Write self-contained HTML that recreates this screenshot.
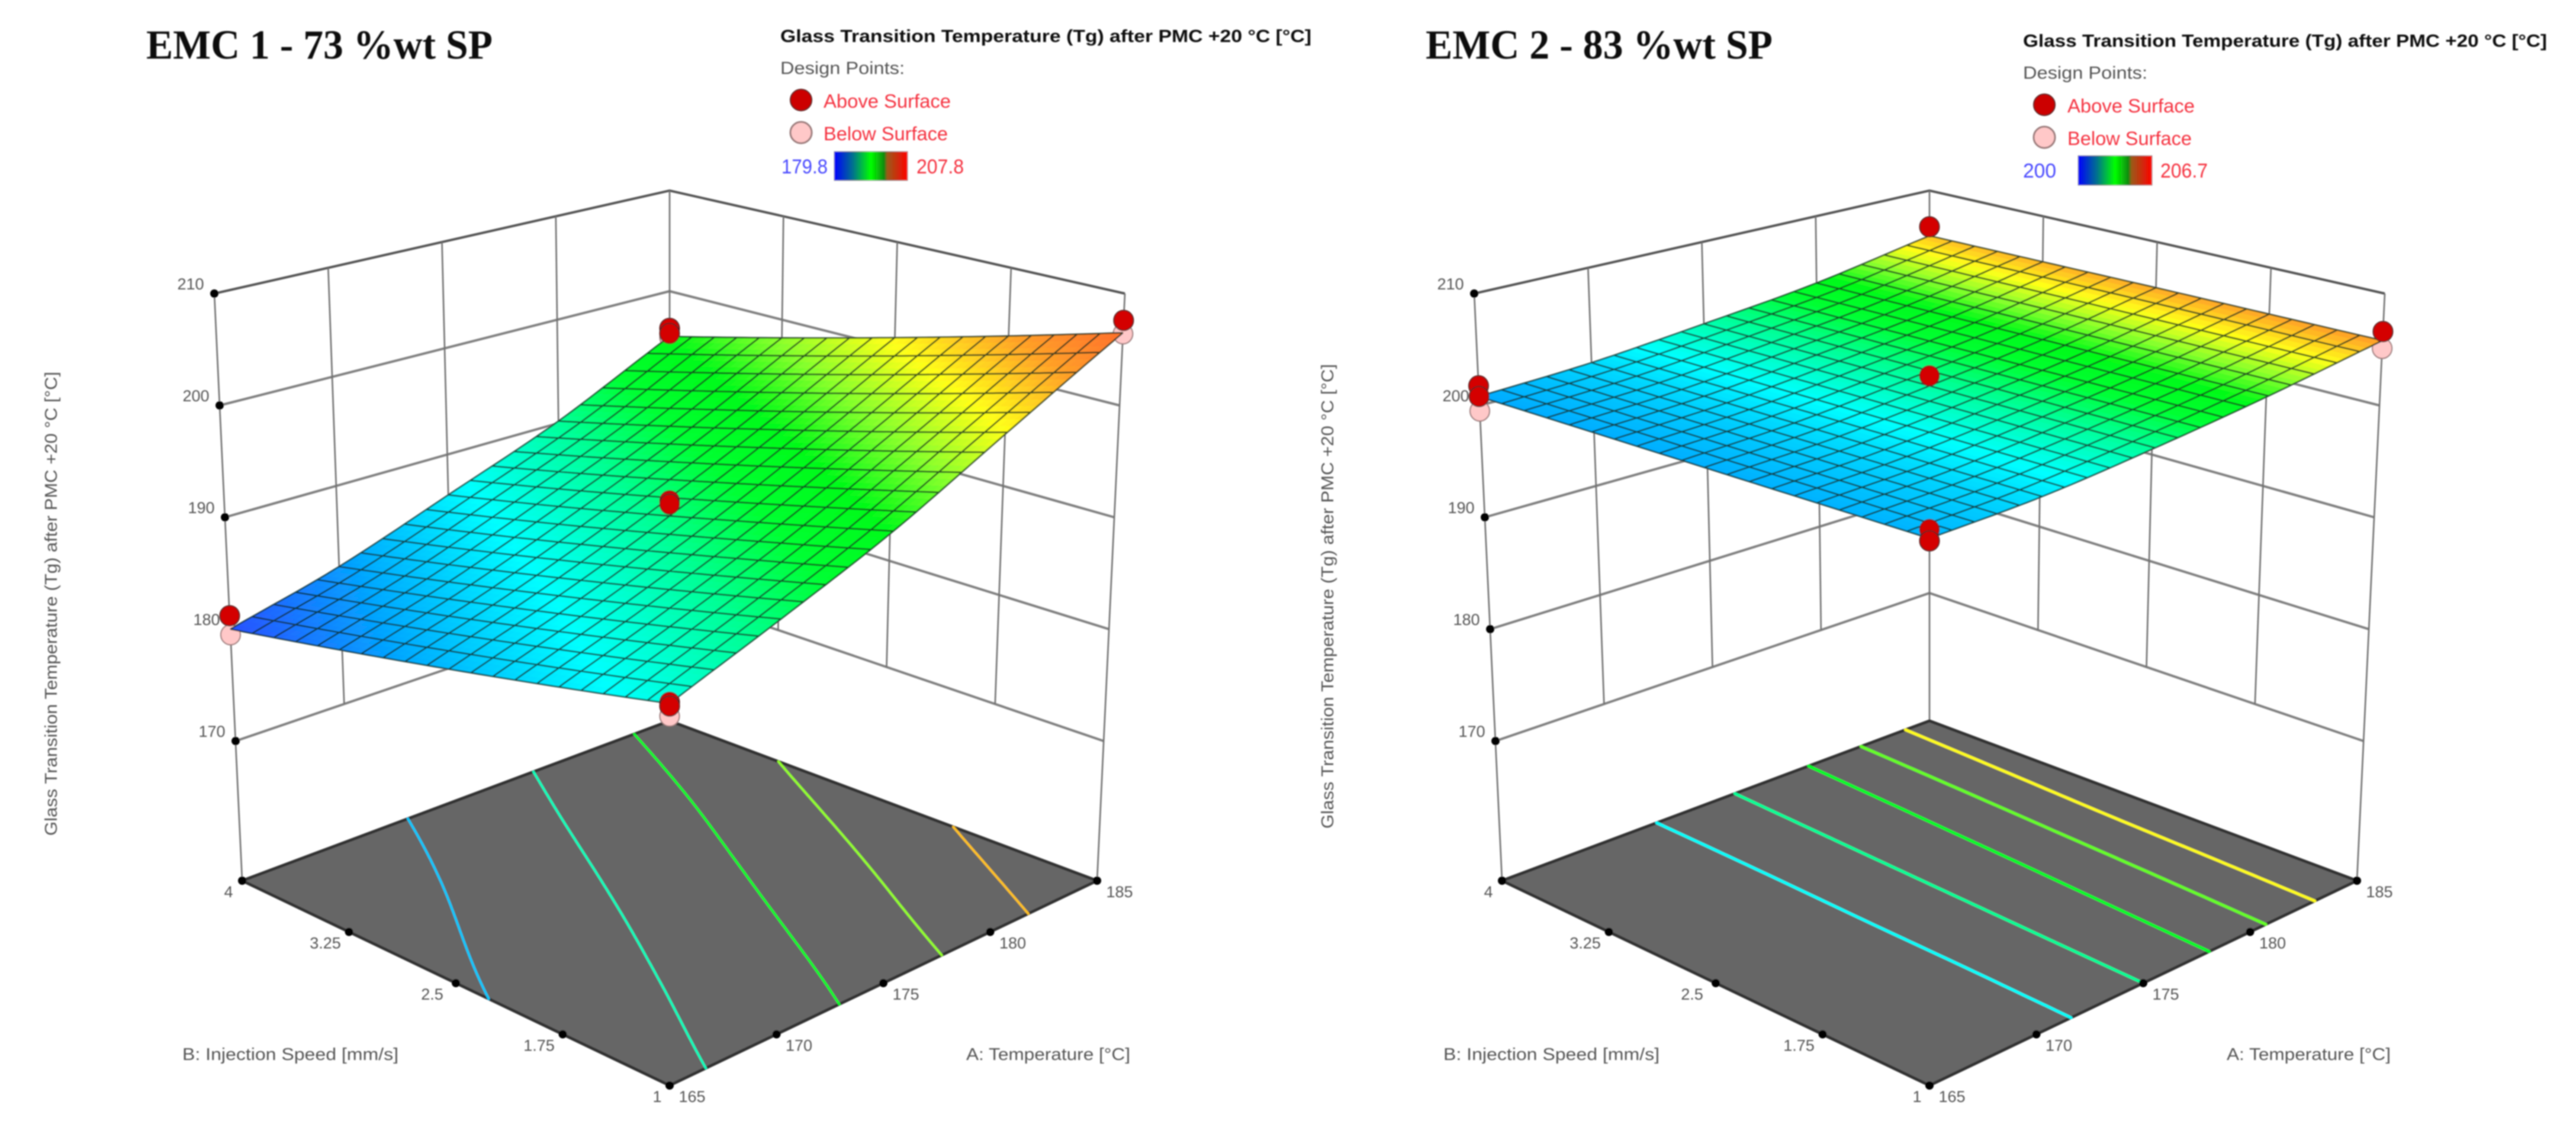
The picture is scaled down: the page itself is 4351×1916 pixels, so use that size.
<!DOCTYPE html>
<html lang="en">
<head>
<meta charset="utf-8">
<title>EMC 1 and EMC 2 response surfaces</title>
<style>
html,body{margin:0;padding:0;background:#fff;width:4351px;height:1916px;overflow:hidden}
svg{display:block}
text{font-family:"Liberation Sans",sans-serif}
.panel-title{font-family:"Liberation Serif",serif;font-size:70px;font-weight:700;fill:#111}
.legend-title{font-size:30px;font-weight:700;fill:#111}
.legend-label{font-size:30px;fill:#555}
.legend-red{font-size:32px;fill:#f5333f}
.scale-min{font-size:34px;fill:#4a4aff}
.scale-max{font-size:34px;fill:#f5333f}
.axis-title{font-size:29px;fill:#555}
.tick-label{font-size:27px;fill:#555}
</style>
</head>
<body>
<svg id="figure" xmlns="http://www.w3.org/2000/svg" width="4351" height="1916" viewBox="0 0 4351 1916">
  <defs>
    <filter id="soft" filterUnits="userSpaceOnUse" x="0" y="0" width="4351" height="1916">
      <feGaussianBlur stdDeviation="1"/>
    </filter>
    <linearGradient id="scale-gradient" x1="0" x2="1" y1="0" y2="0">
      <stop offset="0" stop-color="#0000ff"/>
      <stop offset="0.25" stop-color="#006f90"/>
      <stop offset="0.5" stop-color="#00ff00"/>
      <stop offset="0.68" stop-color="#108a10"/>
      <stop offset="0.72" stop-color="#9a5a18"/>
      <stop offset="1" stop-color="#ff0000"/>
    </linearGradient>
  </defs>
  <rect x="0" y="0" width="4351" height="1916" fill="#ffffff"/>
  <g id="canvas" filter="url(#soft)">
    <g id="panel-1">
      <text class="panel-title" x="247" y="99" textLength="585" lengthAdjust="spacingAndGlyphs">EMC 1 - 73 %wt SP</text>
      <text class="axis-title" transform="translate(96,1412) rotate(-90)" x="0" y="0" textLength="784" lengthAdjust="spacingAndGlyphs">Glass Transition Temperature (Tg) after PMC +20 °C [°C]</text>
      <text class="axis-title" x="308" y="1791" textLength="365" lengthAdjust="spacingAndGlyphs">B: Injection Speed [mm/s]</text>
      <text class="axis-title" x="1632" y="1791" textLength="277" lengthAdjust="spacingAndGlyphs">A: Temperature [°C]</text>
      <g>
        <text class="legend-title" x="1318" y="71" textLength="897" lengthAdjust="spacingAndGlyphs">Glass Transition Temperature (Tg) after PMC +20 °C [°C]</text>
        <text class="legend-label" x="1318" y="125" textLength="210" lengthAdjust="spacingAndGlyphs">Design Points:</text>
        <circle cx="1353" cy="169" r="18" fill="#cc0000" stroke="#5a2020" stroke-width="2"/>
        <text class="legend-red" x="1391" y="182" textLength="215" lengthAdjust="spacingAndGlyphs">Above Surface</text>
        <circle cx="1353" cy="224" r="18" fill="#ffc8c8" stroke="#9a7a7a" stroke-width="3"/>
        <text class="legend-red" x="1391" y="237" textLength="210" lengthAdjust="spacingAndGlyphs">Below Surface</text>
        <text class="scale-min" x="1320" y="293" textLength="78" lengthAdjust="spacingAndGlyphs">179.8</text>
        <rect x="1409" y="256" width="124" height="49" fill="url(#scale-gradient)" stroke="#999" stroke-width="1"/>
        <text class="scale-max" x="1548" y="293" textLength="80" lengthAdjust="spacingAndGlyphs">207.8</text>
      </g>
    </g>
    <g id="panel-2">
      <text class="panel-title" x="2408" y="99" textLength="586" lengthAdjust="spacingAndGlyphs">EMC 2 - 83 %wt SP</text>
      <text class="axis-title" transform="translate(2252,1400) rotate(-90)" x="0" y="0" textLength="785" lengthAdjust="spacingAndGlyphs">Glass Transition Temperature (Tg) after PMC +20 °C [°C]</text>
      <text class="axis-title" x="2438" y="1791" textLength="365" lengthAdjust="spacingAndGlyphs">B: Injection Speed [mm/s]</text>
      <text class="axis-title" x="3761" y="1791" textLength="277" lengthAdjust="spacingAndGlyphs">A: Temperature [°C]</text>
      <g>
        <text class="legend-title" x="3417" y="79" textLength="885" lengthAdjust="spacingAndGlyphs">Glass Transition Temperature (Tg) after PMC +20 °C [°C]</text>
        <text class="legend-label" x="3417" y="133" textLength="210" lengthAdjust="spacingAndGlyphs">Design Points:</text>
        <circle cx="3453" cy="177" r="18" fill="#cc0000" stroke="#5a2020" stroke-width="2"/>
        <text class="legend-red" x="3492" y="190" textLength="215" lengthAdjust="spacingAndGlyphs">Above Surface</text>
        <circle cx="3453" cy="232" r="18" fill="#ffc8c8" stroke="#9a7a7a" stroke-width="3"/>
        <text class="legend-red" x="3492" y="245" textLength="210" lengthAdjust="spacingAndGlyphs">Below Surface</text>
        <text class="scale-min" x="3417" y="300" textLength="56" lengthAdjust="spacingAndGlyphs">200</text>
        <rect x="3510" y="263" width="125" height="50" fill="url(#scale-gradient)" stroke="#999" stroke-width="1"/>
        <text class="scale-max" x="3649" y="300" textLength="80" lengthAdjust="spacingAndGlyphs">206.7</text>
      </g>
    </g>
  </g>
</svg>
<script>
// ---------- axis values ----------
const tempTicks = [165, 170, 175, 180, 185];
const speedTicks = [1, 1.75, 2.5, 3.25, 4];
const tgTicks = [170, 180, 190, 200, 210];

// ---------- EMC 1: Tg at each (temperature row, speed column) ----------
const emc1Surface = [
  [187.8, 185.85, 183.9, 181.95, 180.0],
  [191.4, 189.2, 187.0, 184.8, 182.6],
  [195.5, 193.2, 190.85, 188.5, 186.2],
  [200.8, 198.15, 195.5, 192.85, 190.2],
  [206.5, 203.75, 201.0, 198.25, 195.5]
];
const emc1ContourLevels = [184.5, 189, 193.7, 198.3, 202.8];
const emc1ScaleRange = [179.8, 207.8];
const emc1PointTemp = [165, 165, 165, 165, 165, 185, 185, 185, 185, 185, 175, 175];
const emc1PointSpeed = [4, 4, 1, 1, 1, 4, 4, 4, 1, 1, 2.5, 2.5];
const emc1PointTg = [181.2, 179.5, 187.9, 187.6, 186.8, 196.3, 195.8, 195.4, 207.6, 206.4, 192.2, 191.9];
const emc1PointAbove = [1, 0, 1, 1, 0, 1, 1, 0, 1, 0, 1, 1];

// ---------- EMC 2: Tg at each (temperature row, speed column) ----------
const emc2Surface = [
  [200.9, 200.88, 200.85, 200.83, 200.8],
  [201.4, 201.37, 201.35, 201.32, 201.3],
  [202.5, 202.45, 202.4, 202.35, 202.3],
  [203.95, 203.85, 203.75, 203.65, 203.55],
  [205.8, 205.75, 205.7, 205.6, 205.5]
];
const emc2ContourLevels = [201.7, 202.5, 203.35, 204.2, 205.05];
const emc2ScaleRange = [200, 206.7];
const emc2PointTemp = [165, 165, 165, 165, 165, 185, 185, 185, 175];
const emc2PointSpeed = [4, 4, 4, 1, 1, 4, 1, 1, 2.5];
const emc2PointTg = [201.75, 200.8, 199.5, 201.6, 200.7, 206.4, 206.6, 205.1, 203.3];
const emc2PointAbove = [1, 1, 0, 1, 1, 1, 1, 0, 1];

const NS = 'http://www.w3.org/2000/svg';
const GRID_CELLS = 20;
const SUB = 3;
const FLOOR_FRONT = 1834, FLOOR_SIDE = 1488, FLOOR_BACK = 1218, FLOOR_HALF = 722;

function make(tag, parent, attrs) {
  const el = document.createElementNS(NS, tag);
  for (const k in attrs) el.setAttribute(k, attrs[k]);
  parent.appendChild(el);
  return el;
}
function tempToU(a) { return (a - tempTicks[0]) / (tempTicks[tempTicks.length - 1] - tempTicks[0]); }
function speedToV(b) { return (b - speedTicks[0]) / (speedTicks[speedTicks.length - 1] - speedTicks[0]); }

function yFront(t) { return FLOOR_FRONT - 21.3 * (t - 157.5); }
function ySide(t) { return 1252 - 18.9 * (t - 170); }
function yBack(t) { return 1002 - 17 * (t - 170); }
function halfWidth(t) { return 733 + 0.9 * (t - 170); }

function project(cx, u, v, t) {
  return [
    cx + (u - v) * halfWidth(t),
    (1 - u) * (1 - v) * yFront(t) + (u * (1 - v) + v * (1 - u)) * ySide(t) + u * v * yBack(t)
  ];
}
function projectFloor(cx, u, v) {
  return [
    cx + (u - v) * FLOOR_HALF,
    (1 - u) * (1 - v) * FLOOR_FRONT + (u * (1 - v) + v * (1 - u)) * FLOOR_SIDE + u * v * FLOOR_BACK
  ];
}
function catmull(p0, p1, p2, p3, s) {
  return 0.5 * (2 * p1 + (p2 - p0) * s + (2 * p0 - 5 * p1 + 4 * p2 - p3) * s * s + (3 * p1 - p0 - 3 * p2 + p3) * s * s * s);
}
function edgeExtrap(arr, i) {
  const n = arr.length;
  if (i < 0) return 2 * arr[0] - arr[1];
  if (i >= n) return 2 * arr[n - 1] - arr[n - 2];
  return arr[i];
}
function sampleSurface(grid, u, v) {
  const nu = grid.length - 1, nv = grid[0].length - 1;
  const fu = Math.min(u * nu, nu - 1e-9), fv = Math.min(v * nv, nv - 1e-9);
  const iu = Math.floor(fu), iv = Math.floor(fv);
  const su = fu - iu, sv = fv - iv;
  const col = [];
  for (let k = -1; k <= 2; k++) {
    const row = k + iu < 0 ? grid[0].map(function (x, c) { return 2 * grid[0][c] - grid[1][c]; })
      : k + iu > nu ? grid[nu].map(function (x, c) { return 2 * grid[nu][c] - grid[nu - 1][c]; })
      : grid[k + iu];
    col.push(catmull(edgeExtrap(row, iv - 1), row[iv], row[iv + 1], edgeExtrap(row, iv + 2), sv));
  }
  return catmull(col[0], col[1], col[2], col[3], su);
}
const COLOR_STOPS = [
  [0, 45, 75, 255], [0.12, 0, 170, 255], [0.25, 0, 255, 255], [0.375, 0, 255, 150],
  [0.47, 0, 255, 50], [0.56, 5, 250, 25], [0.65, 135, 255, 45], [0.75, 255, 255, 25], [0.86, 255, 160, 40], [1, 255, 85, 45]
];
function colorFor(t, range) {
  const f = Math.max(0, Math.min(1, (t - range[0]) / (range[1] - range[0])));
  for (let i = 1; i < COLOR_STOPS.length; i++) {
    const a = COLOR_STOPS[i - 1], b = COLOR_STOPS[i];
    if (f <= b[0]) {
      const s = (f - a[0]) / (b[0] - a[0]);
      return 'rgb(' + Math.round(a[1] + (b[1] - a[1]) * s) + ',' + Math.round(a[2] + (b[2] - a[2]) * s) + ',' + Math.round(a[3] + (b[3] - a[3]) * s) + ')';
    }
  }
  return 'rgb(255,85,45)';
}
function fmt(p) { return p[0].toFixed(1) + ' ' + p[1].toFixed(1); }

function drawPanel(root, prefix, cx, grid, levels, range, pTemp, pSpeed, pTg, pAbove, contourWidth) {
  // walls
  const walls = make('g', root, {});
  
  
  tgTicks.forEach(function (t) {
    const l = project(cx, 0, 1, t), b = project(cx, 1, 1, t), r = project(cx, 1, 0, t);
    const line = make('path', walls, {
      d: 'M' + fmt(l) + ' L' + fmt(b) + ' L' + fmt(r),
      fill: 'none',
      stroke: t === tgTicks[tgTicks.length - 1] ? '#555' : '#808080',
      'stroke-width': 4
    });
    
    
  });
  const tMin = tgTicks[0], tMax = tgTicks[tgTicks.length - 1];
  tempTicks.slice(1, -1).forEach(function (a) {
    const u = tempToU(a);
    const p = project(cx, u, 1, tMin), q = project(cx, u, 1, tMax);
    const line = make('path', walls, { d: 'M' + fmt(p) + ' L' + fmt(q), stroke: '#707070', 'stroke-width': 2.6, fill: 'none' });
    
    
  });
  speedTicks.slice(1, -1).forEach(function (b) {
    const v = speedToV(b);
    const p = project(cx, 1, v, tMin), q = project(cx, 1, v, tMax);
    const line = make('path', walls, { d: 'M' + fmt(p) + ' L' + fmt(q), stroke: '#707070', 'stroke-width': 2.6, fill: 'none' });
    
    
  });
  [[0, 1], [1, 1], [1, 0]].forEach(function (c) {
    const p = projectFloor(cx, c[0], c[1]), q = project(cx, c[0], c[1], tMax);
    const line = make('path', walls, { d: 'M' + fmt(p) + ' L' + fmt(q), stroke: '#707070', 'stroke-width': 2.6, fill: 'none' });
    
    
  });

  // floor
  const floor = make('g', root, {});
  
  
  const corners = [[0, 0], [1, 0], [1, 1], [0, 1]].map(function (c) { return projectFloor(cx, c[0], c[1]); });
  const plate = make('polygon', floor, {
    points: corners.map(function (p) { return p[0] + ',' + p[1]; }).join(' '),
    fill: '#666666', stroke: '#333333', 'stroke-width': 5, 'stroke-linejoin': 'round'
  });
  
  

  // contour lines via marching squares
  const N = 60;
  const field = [];
  for (let i = 0; i <= N; i++) {
    field.push([]);
    for (let j = 0; j <= N; j++) field[i].push(sampleSurface(grid, i / N, j / N));
  }
  levels.forEach(function (level) {
    let d = '';
    for (let i = 0; i < N; i++) for (let j = 0; j < N; j++) {
      const c = [[i, j], [i + 1, j], [i + 1, j + 1], [i, j + 1]];
      const pts = [];
      for (let k = 0; k < 4; k++) {
        const a = c[k], b = c[(k + 1) % 4];
        const va = field[a[0]][a[1]], vb = field[b[0]][b[1]];
        if ((va < level) !== (vb < level)) {
          const s = (level - va) / (vb - va);
          pts.push(projectFloor(cx, (a[0] + (b[0] - a[0]) * s) / N, (a[1] + (b[1] - a[1]) * s) / N));
        }
      }
      if (pts.length >= 2) d += 'M' + fmt(pts[0]) + 'L' + fmt(pts[1]);
    }
    const path = make('path', floor, { d: d, fill: 'none', stroke: colorFor(level, range), 'stroke-width': contourWidth, 'stroke-linecap': 'round' });
    
    
  });

  // floor ticks and labels
  const ticks = make('g', root, {});
  
  
  function label(txt, x, y, name) {
    const el = make('text', ticks, { x: x, y: y, 'text-anchor': 'middle', 'class': 'tick-label' });
    el.textContent = txt;
    
    
  }
  function dot(p, name) {
    const el = make('circle', ticks, { cx: p[0], cy: p[1], r: 7, fill: '#000' });
    
    
  }
  tempTicks.forEach(function (a) {
    const p = projectFloor(cx, tempToU(a), 0);
    dot(p, 'temperature-tick-' + a);
    label(String(a), p[0] + 38, p[1] + 28, 'temperature-tick-label-' + a);
  });
  speedTicks.forEach(function (b) {
    const p = projectFloor(cx, 0, speedToV(b));
    dot(p, 'speed-tick-' + b);
    label(String(b), p[0] - (b === 1 ? 21 : b === 4 ? 23 : 40), p[1] + 28, 'speed-tick-label-' + b);
  });
  tgTicks.forEach(function (t) {
    const p = project(cx, 0, 1, t);
    dot(p, 'tg-tick-' + t);
    label(String(t), p[0] - 40, p[1] - 7, 'tg-tick-label-' + t);
  });

  // below-surface markers go under the mesh
  const below = make('g', root, {});
  
  
  const above = document.createElementNS(NS, 'g');
  
  
  pTemp.forEach(function (a, i) {
    const p = project(cx, tempToU(a), speedToV(pSpeed[i]), pTg[i]);
    const isAbove = pAbove[i] === 1;
    const m = make('ellipse', isAbove ? above : below, {
      cx: p[0], cy: p[1], rx: 16.5, ry: 17,
      fill: isAbove ? '#d40000' : '#ffc8c8',
      stroke: isAbove ? '#5a2020' : '#9a7a7a',
      'stroke-width': 2
    });
    
    
  });

  // surface mesh
  const mesh = make('g', root, {});
  
  
  const M = GRID_CELLS * SUB;
  const vals = [], pts = [];
  for (let i = 0; i <= M; i++) {
    vals.push([]);
    pts.push([]);
    for (let j = 0; j <= M; j++) {
      const t = sampleSurface(grid, i / M, j / M);
      vals[i].push(t);
      pts[i].push(project(cx, i / M, j / M, t));
    }
  }
  for (let i = 0; i < M; i++) for (let j = 0; j < M; j++) {
    const t = (vals[i][j] + vals[i + 1][j] + vals[i][j + 1] + vals[i + 1][j + 1]) / 4;
    const col = colorFor(t, range);
    const q = [pts[i][j], pts[i + 1][j], pts[i + 1][j + 1], pts[i][j + 1]];
    const poly = make('polygon', mesh, {
      points: q.map(function (p) { return p[0].toFixed(1) + ',' + p[1].toFixed(1); }).join(' '),
      fill: col, stroke: col, 'stroke-width': 0.8
    });
    
    
  }
  let gd = '';
  for (let i = 0; i <= M; i += SUB) {
    gd += 'M' + fmt(pts[i][0]);
    for (let j = 1; j <= M; j++) gd += 'L' + fmt(pts[i][j]);
    gd += 'M' + fmt(pts[0][i]);
    for (let j = 1; j <= M; j++) gd += 'L' + fmt(pts[j][i]);
  }
  const lines = make('path', mesh, { d: gd, fill: 'none', stroke: '#102a20', 'stroke-opacity': 0.8, 'stroke-width': 2.6 });
  
  

  root.appendChild(above);
}

drawPanel(document.getElementById('panel-1'), 'emc-1', 1131, emc1Surface, emc1ContourLevels, emc1ScaleRange, emc1PointTemp, emc1PointSpeed, emc1PointTg, emc1PointAbove, 4);
drawPanel(document.getElementById('panel-2'), 'emc-2', 3259, emc2Surface, emc2ContourLevels, emc2ScaleRange, emc2PointTemp, emc2PointSpeed, emc2PointTg, emc2PointAbove, 5);
</script>
</body>
</html>
